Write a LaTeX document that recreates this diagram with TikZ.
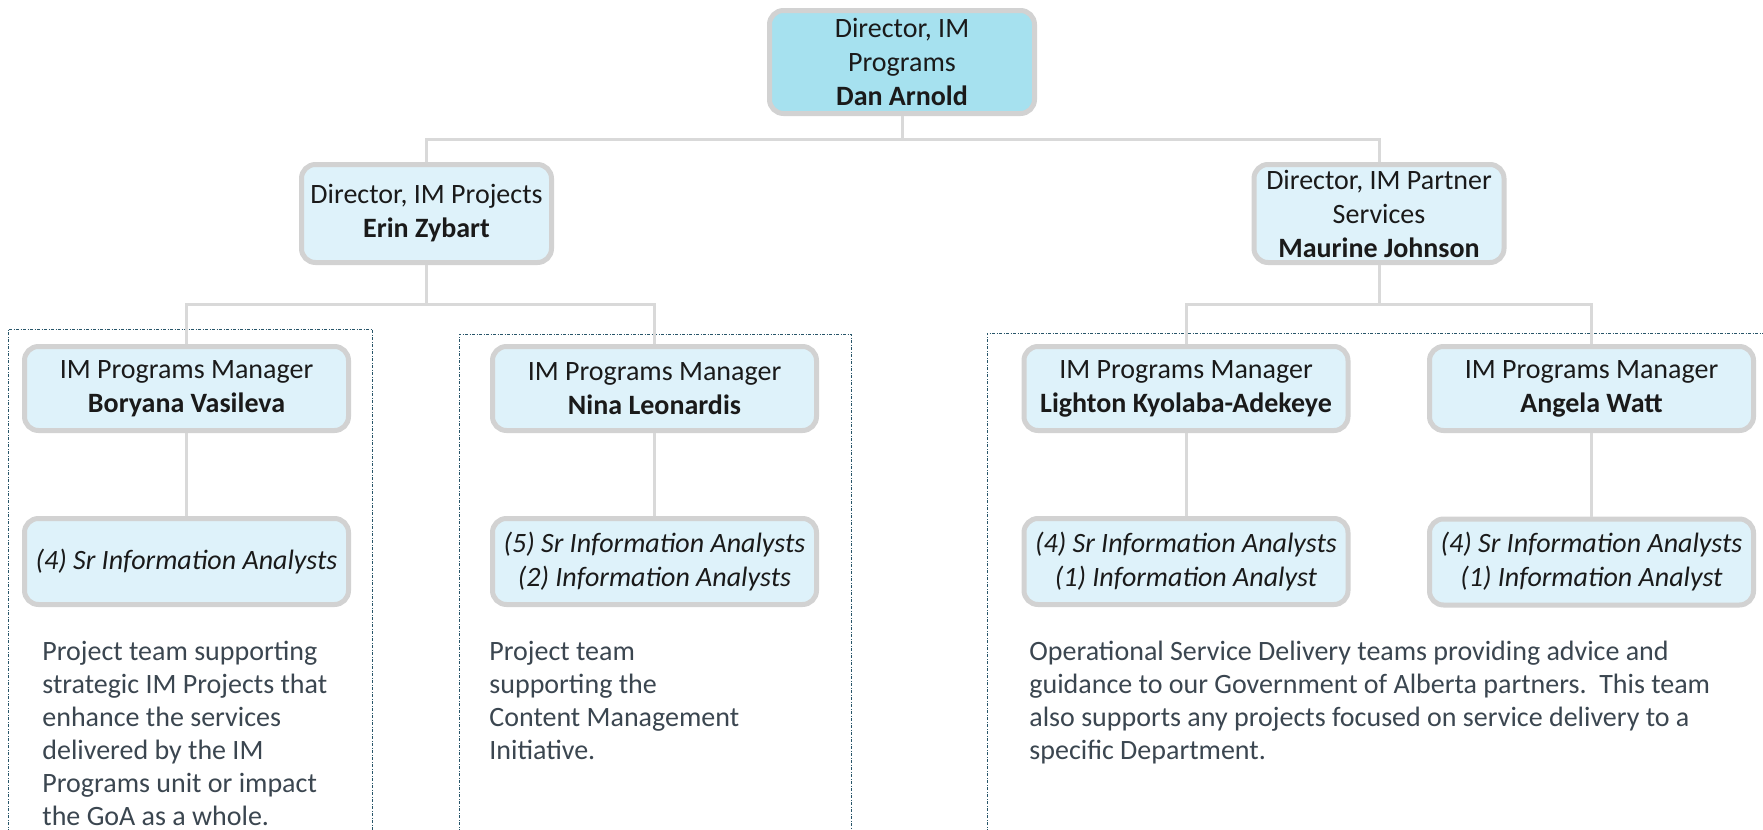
\documentclass[tikz,border=0pt]{standalone}
\usepackage{fontspec}
\setmainfont{Carlito}
\usetikzlibrary{calc}
\definecolor{boxfill}{RGB}{222,242,250}
\definecolor{topfill}{RGB}{166,225,239}
\definecolor{boxline}{RGB}{210,210,210}
\definecolor{connline}{RGB}{217,217,217}
\definecolor{grpline}{RGB}{40,85,105}
\definecolor{desctext}{RGB}{59,70,80}
\definecolor{boxtext}{RGB}{26,26,26}
\begin{document}
\begin{tikzpicture}[x=0.5pt,y=-0.5pt,
  orgbox/.style={draw=boxline, line width=2.5pt, fill=boxfill, rounded corners=7pt,
    inner sep=0pt, align=center, text=boxtext, font=\fontsize{14}{17}\selectfont},
  topbox/.style={orgbox, fill=topfill, minimum width=132.5pt, minimum height=51.5pt},
  dirbox/.style={orgbox, minimum width=125pt, minimum height=49pt},
  mgrbox/.style={orgbox, minimum width=162pt, minimum height=42pt},
  teambox/.style={orgbox, minimum width=162pt, minimum height=43pt},
  conn/.style={draw=connline, line width=1.5pt},
  grp/.style={draw=grpline, line width=0.5pt, dash pattern=on 1.5pt off 0.8pt on 0.4pt off 0.8pt},
  desc/.style={anchor=base west, inner sep=0pt, align=left, text=desctext, font=\fontsize{14}{16.5}\selectfont}
]
\useasboundingbox[fill=white] (0,0) rectangle (1763,830);

% group frames
\draw[grp] (8,832) -- (8,329) -- (372,329) -- (372,832);
\draw[grp] (459,832) -- (459,334) -- (851,334) -- (851,832);
\draw[grp] (987,832) -- (987,333) -- (1766,333);

% boxes
\node[topbox] (top) at (902,62) {Director, IM\\Programs\\\textbf{Dan Arnold}};
\node[dirbox] (erin) at (426.5,213.5) {Director, IM Projects\\\textbf{Erin Zybart}};
\node[dirbox] (maur) at (1379,213.5) {Director, IM Partner\\Services\\\textbf{Maurine Johnson}};

\node[mgrbox] (bory) at (186.5,388.5) {IM Programs Manager\\\textbf{Boryana Vasileva}};
\node[mgrbox] (nina) at (654.5,388.5) {IM Programs Manager\\\textbf{Nina Leonardis}};
\node[mgrbox] (ligh) at (1186,388.5) {IM Programs Manager\\\textbf{Lighton Kyolaba-Adekeye}};
\node[mgrbox] (ange) at (1591.5,388.5) {IM Programs Manager\\\textbf{Angela Watt}};

\node[teambox] (boryt) at (186.5,561.5) {\itshape (4) Sr Information Analysts};
\node[teambox] (ninat) at (654.5,561.5) {\itshape (5) Sr Information Analysts\\\itshape (2) Information Analysts};
\node[teambox] (light) at (1186,561.5) {\itshape (4) Sr Information Analysts\\\itshape (1) Information Analyst};
\node[teambox] (anget) at (1591.5,562) {\itshape (4) Sr Information Analysts\\\itshape (1) Information Analyst};

% connectors
\coordinate (bus0) at (902,139);
\coordinate (bus1) at (426.5,304);
\coordinate (bus2) at (1379,304);
\draw[conn] (top.south) -- (bus0);
\draw[conn] (bus0) -| (erin.north);
\draw[conn] (bus0) -| (maur.north);
\draw[conn] (erin.south) -- (bus1);
\draw[conn] (bus1) -| (bory.north);
\draw[conn] (bus1) -| (nina.north);
\draw[conn] (maur.south) -- (bus2);
\draw[conn] (bus2) -| (ligh.north);
\draw[conn] (bus2) -| (ange.north);
\draw[conn] (bory.south) -- (boryt.north);
\draw[conn] (nina.south) -- (ninat.north);
\draw[conn] (ligh.south) -- (light.north);
\draw[conn] (ange.south) -- (anget.north);

% descriptions (anchor at the baseline of the last line)
\node[desc] (d1) at (42,825) {Project team supporting\\strategic IM Projects that\\enhance the services\\delivered by the IM\\Programs unit or impact\\the GoA as a whole.};
\node[desc] (d2) at (489,759) {Project team\\supporting the\\Content Management\\Initiative.};
\node[desc] (d3) at (1029,759) {Operational Service Delivery teams providing advice and\\guidance to our Government of Alberta partners.\ \ This team\\also supports any projects focused on service delivery to a\\specific Department.};
\end{tikzpicture}
\end{document}
